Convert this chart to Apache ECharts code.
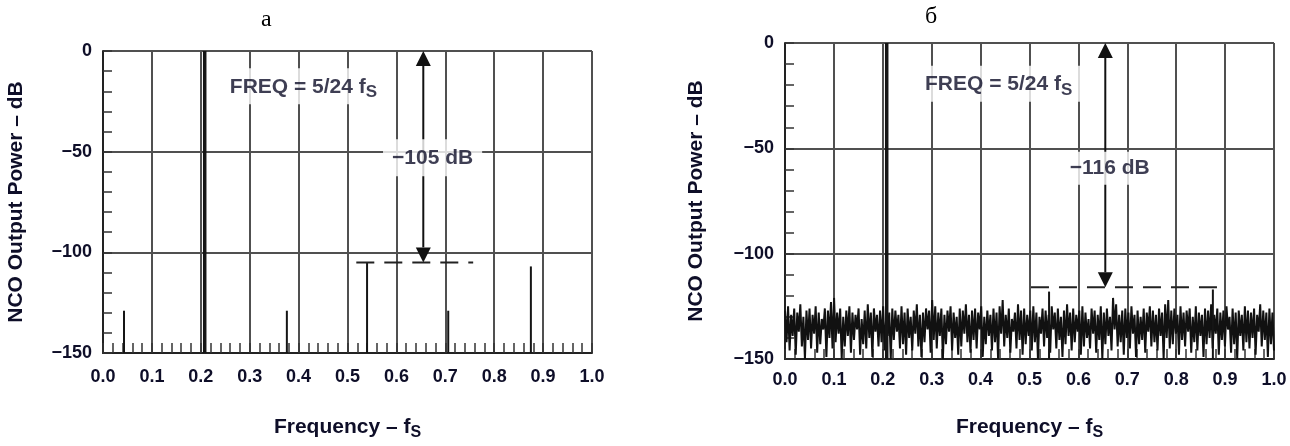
<!DOCTYPE html>
<html>
<head>
<meta charset="utf-8">
<script src="https://cdn.jsdelivr.net/npm/echarts@6/dist/echarts.min.js"></script>
<style>html,body{margin:0;padding:0;background:#fff;}#c{width:1290px;height:446px;}</style>
</head>
<body>
<div id="c"></div>
<script>
// ---- data ----
const panelTitles = ['а', 'б'];
const leftSpurFreq = [0.043, 0.208, 0.376, 0.540, 0.706, 0.875];
const leftSpurDb = [-129, 0, -129, -105, -129, -107];
const rightSpurFreq = [0.208, 0.540, 0.875];
const rightSpurDb = [0, -118, -117];
const leftLevel = -105;
const rightLevel = -116;
const arrowFreq = 0.655;
const leftDash = [0.518, 0.757];
const rightDash = [0.503, 0.900];
const freqText = 'FREQ = 5/24 f';
const leftDbText = '−105 dB';
const rightDbText = '−116 dB';
const leftFreqLabelPos = [0.41, -17.5];
const leftDbLabelPos = [0.674, -53];
const rightFreqLabelPos = [0.437, -19.3];
const rightDbLabelPos = [0.664, -59.5];
const noiseHi = [
-127,-125,-129,-126,-128,-124,-130,-127,-126,-129,
-125,-128,-131,-126,-127,-123,-121,-128,-126,-130,
-127,-125,-128,-129,-126,-131,-127,-124,-128,-126,
-129,-127,-125,-130,-128,-126,-127,-129,-125,-128,
-126,-130,-127,-124,-129,-128,-126,-127,-122,-125,
-128,-126,-129,-127,-125,-128,-130,-126,-127,-124,
-129,-127,-126,-128,-125,-130,-127,-129,-126,-128,
-125,-122,-129,-126,-131,-128,-124,-127,-126,-129,
-127,-125,-128,-130,-126,-127,-129,-125,-128,-126,
-130,-127,-124,-128,-126,-129,-127,-125,-128,-131,
-126,-127,-129,-125,-128,-126,-130,-121,-124,-129,
-127,-126,-128,-125,-129,-127,-130,-126,-128,-125,
-127,-129,-126,-128,-124,-122,-127,-126,-129,-125,
-128,-127,-126,-130,-125,-128,-129,-126,-127,-124,
-129,-126,-128,-127,-125,-130,-126,-128,-127,-129,
-125,-127,-128,-126,-129,-124,-127,-128,-126,-128];
const noiseLo = [
-142,-146,-139,-148,-137,-144,-150,-141,-145,-138,
-147,-143,-136,-149,-140,-145,-142,-138,-150,-144,
-139,-147,-141,-136,-148,-143,-145,-140,-149,-137,
-144,-142,-146,-139,-150,-141,-137,-145,-143,-148,
-140,-146,-138,-144,-149,-142,-136,-147,-141,-145,
-139,-150,-143,-137,-146,-140,-148,-144,-138,-142,
-147,-141,-145,-136,-149,-143,-139,-146,-142,-150,
-138,-144,-140,-147,-137,-145,-141,-148,-143,-139,
-146,-142,-150,-138,-144,-140,-147,-136,-145,-141,
-149,-143,-139,-146,-142,-137,-148,-144,-140,-145,
-138,-147,-141,-150,-143,-139,-146,-136,-144,-142,
-148,-140,-145,-138,-149,-143,-141,-147,-137,-144,
-142,-146,-139,-150,-140,-145,-143,-138,-148,-141,
-144,-137,-147,-142,-146,-139,-149,-143,-140,-145,
-138,-148,-141,-144,-136,-147,-143,-150,-139,-146,
-142,-145,-140,-148,-137,-144,-141,-149,-143,-146];

// ---- build ----
const FONT = 'Liberation Sans';
const TXT = '#0e0e28';
const noiseData = [];
const nTot = noiseHi.length * 2;
for (let i = 0; i < noiseHi.length; i++) {
  noiseData.push([(2 * i) / (nTot - 1), noiseHi[i]]);
  noiseData.push([(2 * i + 1) / (nTot - 1), noiseLo[i]]);
}

function xAxis(gi, labelMargin, nameGap) {
  return {
    type: 'value', gridIndex: gi, min: 0, max: 1, interval: 0.1,
    name: '{m|Frequency – f}{s|S}', nameLocation: 'middle', nameGap: nameGap,
    nameTextStyle: { rich: {
      m: { fontFamily: FONT, fontSize: 21, fontWeight: 'bold', color: TXT },
      s: { fontFamily: FONT, fontSize: 16, fontWeight: 'bold', color: TXT, padding: [11, 0, 0, 0] } } },
    axisLine: { show: true, onZero: false, lineStyle: { color: '#222', width: 2 } },
    axisTick: { show: true, inside: true, length: 10, lineStyle: { color: '#333', width: 1.5 } },
    minorTick: { show: true, splitNumber: 5, length: 10, lineStyle: { color: '#333', width: 1.5 } },
    splitLine: { show: true, lineStyle: { color: '#505050', width: 2 } },
    axisLabel: { margin: labelMargin, fontFamily: FONT, fontSize: 18, fontWeight: 'bold', color: TXT,
      formatter: v => v.toFixed(1) }
  };
}
function yAxis(gi, nameGap) {
  return {
    type: 'value', gridIndex: gi, min: -150, max: 0, interval: 50,
    name: 'NCO Output Power – dB', nameLocation: 'middle', nameGap: nameGap, nameRotate: 90,
    nameTextStyle: { fontFamily: FONT, fontSize: 21, fontWeight: 'bold', color: TXT },
    axisLine: { show: true, onZero: false, lineStyle: { color: '#222', width: 2 } },
    axisTick: { show: true, inside: true, length: 9, lineStyle: { color: '#333', width: 1.5 } },
    minorTick: { show: true, splitNumber: 5, length: 9, lineStyle: { color: '#333', width: 1.5 } },
    splitLine: { show: true, lineStyle: { color: '#505050', width: 2 } },
    axisLabel: { margin: 11, fontFamily: FONT, fontSize: 18, fontWeight: 'bold', color: TXT,
      formatter: v => String(v).replace('-', '−') }
  };
}
function spikes(gi, fr, db) {
  return {
    type: 'custom', xAxisIndex: gi, yAxisIndex: gi, z: 4, silent: true,
    data: fr.map((f, i) => [f, db[i]]),
    renderItem: (params, api) => {
      const x = api.value(0), y = api.value(1);
      const p0 = api.coord([x, -150]), p1 = api.coord([x, y]);
      return { type: 'line', shape: { x1: p0[0], y1: p0[1], x2: p1[0], y2: p1[1] },
        style: { stroke: '#151515', lineWidth: y > -50 ? 3.5 : 2 } };
    }
  };
}
function arrow(gi, x, yTop, yBot) {
  return {
    type: 'custom', xAxisIndex: gi, yAxisIndex: gi, z: 5, silent: true,
    data: [[x, yTop, yBot]],
    renderItem: (params, api) => {
      const t = api.coord([api.value(0), api.value(1)]);
      const b = api.coord([api.value(0), api.value(2)]);
      const h = 15, w = 7.5;
      return { type: 'group', children: [
        { type: 'line', shape: { x1: t[0], y1: t[1] + h, x2: b[0], y2: b[1] - h }, style: { stroke: '#111', lineWidth: 2 } },
        { type: 'polygon', shape: { points: [[t[0], t[1]], [t[0] - w, t[1] + h], [t[0] + w, t[1] + h]] }, style: { fill: '#111' } },
        { type: 'polygon', shape: { points: [[b[0], b[1]], [b[0] - w, b[1] - h], [b[0] + w, b[1] - h]] }, style: { fill: '#111' } }
      ] };
    }
  };
}
function dashed(gi, range, level) {
  return {
    type: 'line', xAxisIndex: gi, yAxisIndex: gi, z: 5, silent: true, symbol: 'none',
    data: [[range[0], level], [range[1], level]],
    lineStyle: { color: '#222', width: 2, type: [18, 10] }
  };
}
function textBox(gi, pos, formatter, pad) {
  return {
    type: 'scatter', xAxisIndex: gi, yAxisIndex: gi, z: 20, silent: true,
    symbolSize: 1, itemStyle: { color: 'rgba(0,0,0,0)' },
    data: [pos],
    label: { show: true, position: 'inside', formatter: formatter,
      backgroundColor: '#fff', padding: pad,
      fontFamily: FONT, fontSize: 21, fontWeight: 'bold', color: TXT,
      rich: {
        m: { fontFamily: FONT, fontSize: 21, fontWeight: 'bold', color: TXT },
        s: { fontFamily: FONT, fontSize: 17, fontWeight: 'bold', color: TXT, padding: [11, 0, 0, 0] }
      } }
  };
}

const chart = echarts.init(document.getElementById('c'));
chart.setOption({
  animation: false,
  backgroundColor: '#fff',
  title: [
    { text: panelTitles[0], left: 256, top: 3, textStyle: { fontFamily: 'Liberation Serif', fontSize: 24, fontWeight: 'normal', color: '#000' } },
    { text: panelTitles[1], left: 920, top: 0, textStyle: { fontFamily: 'Liberation Serif', fontSize: 24, fontWeight: 'normal', color: '#000' } }
  ],
  grid: [
    { left: 103, top: 51, width: 489, height: 320 },
    { left: 785, top: 43, width: 489, height: 324 }
  ],
  xAxis: [xAxis(0, 15, 61), xAxis(1, 12, 55)],
  yAxis: [yAxis(0, 76), yAxis(1, 78)],
  series: [
    spikes(0, leftSpurFreq, leftSpurDb),
    dashed(0, leftDash, leftLevel),
    arrow(0, arrowFreq, 0, leftLevel),
    textBox(0, leftFreqLabelPos, '{m|' + freqText + '}{s|S}', [5, 8, 3, 8]),
    textBox(0, leftDbLabelPos, leftDbText, [8, 9, 8, 9]),
    { type: 'line', xAxisIndex: 1, yAxisIndex: 1, z: 3, silent: true, symbol: 'none',
      sampling: null, data: noiseData, lineStyle: { color: '#111', width: 2 } },
    spikes(1, rightSpurFreq, rightSpurDb),
    dashed(1, rightDash, rightLevel),
    arrow(1, arrowFreq, 0, rightLevel),
    textBox(1, rightFreqLabelPos, '{m|' + freqText + '}{s|S}', [5, 8, 3, 8]),
    textBox(1, rightDbLabelPos, rightDbText, [6, 9, 6, 9])
  ]
});
</script>
</body>
</html>
